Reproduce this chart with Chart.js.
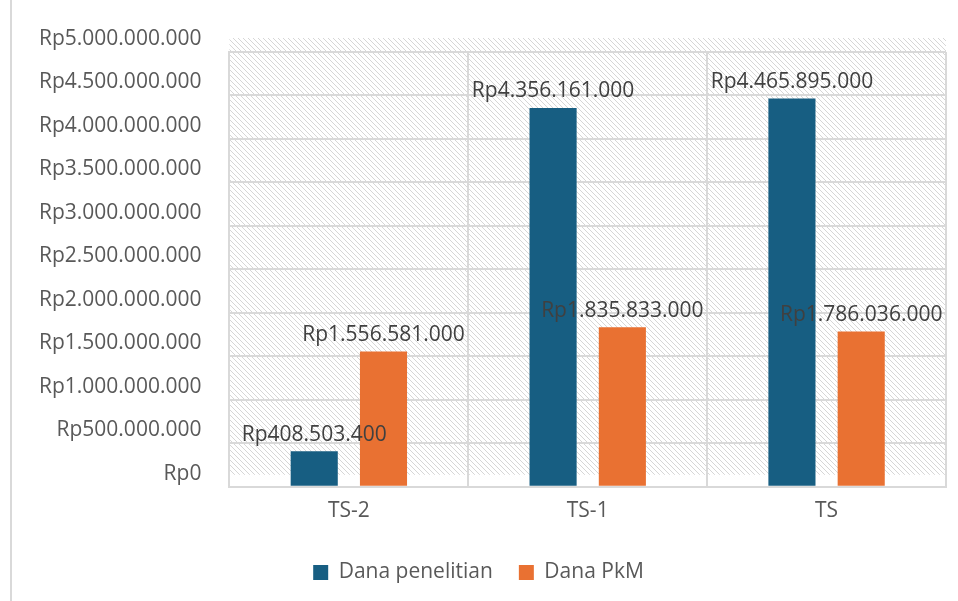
<!DOCTYPE html>
<html>
<head>
<meta charset="utf-8">
<script src="https://cdn.jsdelivr.net/npm/chart.js@4.4.1/dist/chart.umd.min.js"></script>
<style>
    html, body { margin: 0; background: #fff; }
    #wrap { position: relative; width: 958px; height: 601px; }
    #wrap:before { content: ''; position: absolute; left: 10px; top: 0; bottom: 0; border-left: 2px solid #d9d9d9; }
</style>
</head>
<body>
<div id="wrap"><canvas id="chart"></canvas></div>
<script>
// Data
const categories = ['TS-2', 'TS-1', 'TS'];
const danaPenelitian = [408503400, 4356161000, 4465895000];
const danaPkM = [1556581000, 1835833000, 1786036000];
const seriesNames = ['Dana penelitian', 'Dana PkM'];
const seriesColors = ['#175e82', '#e97132'];
const yMax = 5000000000;
const yStep = 500000000;

const FONT = '"Open Sans", "Noto Sans", sans-serif';

// Rupiah format with dots
function rupiah(n) {
    return 'Rp' + String(Math.round(n)).replace(/\B(?=(\d{3})+(?!\d))/g, '.');
}

// Hatched background pattern
function makeHatch() {
    const p = document.createElement('canvas');
    p.width = 5; p.height = 5;
    const c = p.getContext('2d');
    c.fillStyle = '#ffffff';
    c.fillRect(0, 0, 5, 5);
    c.strokeStyle = '#d6d6d6';
    c.lineWidth = 1;
    c.beginPath();
    c.moveTo(0, 0); c.lineTo(5, 5);
    c.moveTo(-3, 2); c.lineTo(3, 8);
    c.moveTo(2, -3); c.lineTo(8, 3);
    c.stroke();
    return p;
}

const hatchPlugin = {
    id: 'hatch',
    beforeDraw(chart) {
        const { ctx, chartArea } = chart;
        ctx.save();
        ctx.fillStyle = ctx.createPattern(makeHatch(), 'repeat');
        ctx.fillRect(chartArea.left, chartArea.top - 14, chartArea.right - chartArea.left, chartArea.bottom - chartArea.top + 2);
        ctx.restore();
    }
};

// Value labels above bars
const valueLabels = {
    id: 'valueLabels',
    afterDatasetsDraw(chart) {
        const ctx = chart.ctx;
        ctx.save();
        ctx.font = '21px ' + FONT;
        ctx.fillStyle = '#404040';
        ctx.textAlign = 'center';
        ctx.textBaseline = 'bottom';
        chart.data.datasets.forEach((ds, i) => {
            chart.getDatasetMeta(i).data.forEach((bar, j) => {
                ctx.fillText(rupiah(ds.data[j]), bar.x, bar.y - 6);
            });
        });
        ctx.restore();
    }
};

const ctx = document.getElementById('chart').getContext('2d');
new Chart(ctx, {
    type: 'bar',
    data: {
        labels: categories,
        datasets: [
            { label: seriesNames[0], data: danaPenelitian, backgroundColor: seriesColors[0] },
            { label: seriesNames[1], data: danaPkM, backgroundColor: seriesColors[1] }
        ]
    },
    options: {
        responsive: true,
        maintainAspectRatio: false,
        animation: false,
        categoryPercentage: 0.58,
        barPercentage: 0.68,
        layout: { padding: { left: 11, right: 12, top: 52, bottom: 8 } },
        plugins: {
            legend: {
                position: 'bottom',
                labels: {
                    boxWidth: 15,
                    boxHeight: 15,
                    padding: 26,
                    color: '#595959',
                    font: { family: FONT, size: 21 }
                }
            },
            tooltip: { enabled: false }
        },
        scales: {
            x: {
                grid: { color: '#d9d9d9', lineWidth: 2, drawTicks: false },
                border: { color: '#d9d9d9', width: 2 },
                ticks: {
                    color: '#595959',
                    padding: 12,
                    font: { family: FONT, size: 21 }
                }
            },
            y: {
                min: 0,
                max: yMax,
                grid: { color: '#d9d9d9', lineWidth: 2, drawTicks: false },
                border: { color: '#d9d9d9', width: 2 },
                ticks: {
                    stepSize: yStep,
                    color: '#595959',
                    padding: 28,
                    labelOffset: -13,
                    font: { family: FONT, size: 21 },
                    callback: v => rupiah(v)
                }
            }
        }
    },
    plugins: [hatchPlugin, valueLabels]
});
</script>
</body>
</html>
